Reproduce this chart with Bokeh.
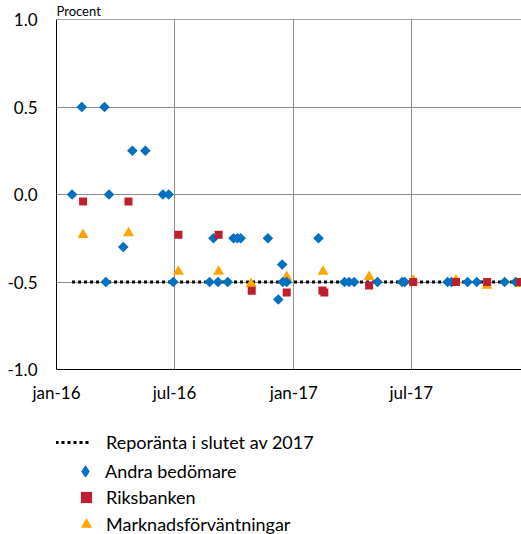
import numpy as np
import pandas as pd
from bokeh.plotting import figure
from bokeh.layouts import column
from bokeh.models import (ColumnDataSource, FixedTicker, Legend, LegendItem,
                          Span, Range1d)
from bokeh.embed import file_html
from bokeh.resources import INLINE

# ---------------- data ----------------
x_start = "2016-01-01"
x_end = "2017-12-18"
x_tick_dates = ["2016-01-01", "2016-07-01", "2017-01-01", "2017-07-01"]
x_tick_labels = ["jan-16", "jul-16", "jan-17", "jul-17"]
y_ticks = [-1.0, -0.5, 0.0, 0.5, 1.0]
y_tick_labels = ["-1.0", "-0.5", "0.0", "0.5", "1.0"]
y_title = "Procent"

rate_dates = ["2016-01-25", "2017-12-31"]
rate_values = [-0.5, -0.5]

andra_dates = ["2016-01-25", "2016-02-09", "2016-03-15", "2016-03-17", "2016-03-22",
               "2016-04-13", "2016-04-27", "2016-05-17", "2016-06-13", "2016-06-22",
               "2016-06-29", "2016-08-24", "2016-08-30", "2016-09-06", "2016-09-21",
               "2016-09-30", "2016-10-06", "2016-10-11", "2016-11-22", "2016-12-08",
               "2016-12-14", "2016-12-15", "2016-12-21", "2017-02-08", "2017-03-20",
               "2017-03-27", "2017-04-04", "2017-05-10", "2017-06-17", "2017-06-21",
               "2017-08-26", "2017-09-01", "2017-09-26", "2017-10-10", "2017-11-22",
               "2017-12-09"]
andra_values = [0.0, 0.5, 0.5, -0.5, 0.0,
                -0.3, 0.25, 0.25, 0.0, 0.0,
                -0.5, -0.5, -0.25, -0.5, -0.5,
                -0.25, -0.25, -0.25, -0.25, -0.6,
                -0.4, -0.5, -0.5, -0.25, -0.5,
                -0.5, -0.5, -0.5, -0.5, -0.5,
                -0.5, -0.5, -0.5, -0.5, -0.5,
                -0.5]

riks_dates = ["2016-02-11", "2016-04-21", "2016-07-07", "2016-09-07", "2016-10-28",
              "2016-12-21", "2017-02-14", "2017-02-17", "2017-04-27", "2017-07-04",
              "2017-09-08", "2017-10-26", "2017-12-16"]
riks_values = [-0.04, -0.04, -0.23, -0.23, -0.55,
               -0.56, -0.548, -0.56, -0.52, -0.5,
               -0.5, -0.5, -0.5]

mark_dates = ["2016-02-11", "2016-04-21", "2016-07-07", "2016-09-07", "2016-10-27",
              "2016-12-21", "2017-02-15", "2017-04-27", "2017-07-04", "2017-09-08",
              "2017-10-26", "2017-12-16"]
mark_values = [-0.23, -0.22, -0.44, -0.44, -0.51,
               -0.47, -0.44, -0.47, -0.49, -0.49,
               -0.52, -0.51]

labels = ["Reporänta i slutet av 2017", "Andra bedömare", "Riksbanken",
          "Marknadsförväntningar"]

# ---------------- styling ----------------
BLUE = "#0070C0"
RED = "#BE1E2D"
ORANGE = "#FFA500"
FONT = "Lato"


def ms(d):
    return float(pd.Timestamp(d).value // 10**6)


p = figure(width=521, height=405, x_axis_type="datetime",
           x_range=Range1d(ms(x_start), ms(x_end)), y_range=Range1d(-1.0, 1.0),
           output_backend="svg", toolbar_location=None,
           min_border_left=56, min_border_right=0, min_border_top=17,
           min_border_bottom=34, title=y_title)
p.outline_line_color = None
p.background_fill_color = "white"
p.border_fill_color = "white"
p.title.align = "left"
p.title.text_font = FONT
p.title.text_font_size = "13px"
p.title.text_font_style = "normal"
p.title.text_color = "black"
p.title.standoff = 1
p.title.offset = 0

# grids
p.xgrid.ticker = FixedTicker(ticks=[ms(d) for d in x_tick_dates[1:]])
p.ygrid.ticker = FixedTicker(ticks=[t for t in y_ticks if -1.0 < t < 1.0])
p.grid.grid_line_color = "#8c8c8c"
p.grid.grid_line_width = 1
p.add_layout(Span(location=1.0, dimension="width", line_color="#404040", line_width=1))

# axes
p.xaxis.ticker = FixedTicker(ticks=[ms(d) for d in x_tick_dates])
p.xaxis.major_label_overrides = {ms(d): l for d, l in zip(x_tick_dates, x_tick_labels)}
p.yaxis.ticker = FixedTicker(ticks=y_ticks)
p.yaxis.major_label_overrides = {t: l for t, l in zip(y_ticks, y_tick_labels)}
for ax in (p.xaxis, p.yaxis):
    ax.major_tick_line_color = None
    ax.minor_tick_line_color = None
    ax.major_tick_out = 0
    ax.major_tick_in = 0
    ax.axis_line_color = "black"
    ax.major_label_text_font = FONT
    ax.major_label_text_font_size = "17px"
    ax.major_label_text_color = "black"
p.xaxis.major_label_standoff = 12
p.yaxis.major_label_standoff = 19

# data
line_src = ColumnDataSource(dict(x=[ms(d) for d in rate_dates], y=rate_values))
andra_src = ColumnDataSource(dict(x=[ms(d) for d in andra_dates], y=andra_values))
riks_src = ColumnDataSource(dict(x=[ms(d) for d in riks_dates], y=riks_values))
mark_src = ColumnDataSource(dict(x=[ms(d) for d in mark_dates], y=mark_values))

line_style = dict(line_color="black", line_width=3, line_dash="3 3")
mark_style = dict(marker="triangle", fill_color=ORANGE, line_color=None)
andra_style = dict(marker="square", angle=np.pi / 4, fill_color=BLUE, line_color=None)
riks_style = dict(marker="square", fill_color=RED, line_color=None)

p.line("x", "y", source=line_src, **line_style)
p.scatter("x", "y", source=mark_src, size=11, **mark_style)
p.scatter("x", "y", source=andra_src, size=7.5, **andra_style)
p.scatter("x", "y", source=riks_src, size=8, **riks_style)

# ---------------- legend (separate strip below the chart) ----------------
lg = figure(width=521, height=129, output_backend="svg", toolbar_location=None,
            x_range=Range1d(0, 1), y_range=Range1d(0, 1),
            x_axis_type=None, y_axis_type=None,
            min_border_left=0, min_border_right=0, min_border_top=0,
            min_border_bottom=0)
lg.outline_line_color = None
lg.grid.visible = False

# legend-only renderers (no visible points; they just carry the styles)
nan = [float("nan")]
g_line = lg.line(nan, nan, **line_style)
g_andra = lg.scatter(nan, nan, marker="diamond", fill_color=BLUE, line_color=BLUE,
                     line_width=1)
g_riks = lg.scatter(nan, nan, **riks_style)
g_mark = lg.scatter(nan, nan, **mark_style)

common = dict(orientation="vertical", margin=0, padding=0, spacing=0,
              glyph_height=28, label_height=28,
              border_line_color=None, background_fill_alpha=0,
              label_text_font=FONT, label_text_font_size="18px",
              label_text_color="black")
# the legend strip's frame is aligned with the chart frame (starts at x=56)
legends = [
    Legend(items=[LegendItem(label=labels[0], renderers=[g_line])],
           location=(-1, 78), glyph_width=36, label_standoff=15, **common),
    Legend(items=[LegendItem(label=labels[1], renderers=[g_andra])],
           location=(15, 49), glyph_width=28, label_standoff=6, **common),
    Legend(items=[LegendItem(label=labels[2], renderers=[g_riks])],
           location=(16, 23), glyph_width=28, label_standoff=6, **common),
    Legend(items=[LegendItem(label=labels[3], renderers=[g_mark])],
           location=(16, -4), glyph_width=28, label_standoff=6, **common),
]
for leg in legends:
    lg.add_layout(leg)

layout = column(p, lg, spacing=0)
open("out.html", "w").write(file_html(layout, INLINE))
